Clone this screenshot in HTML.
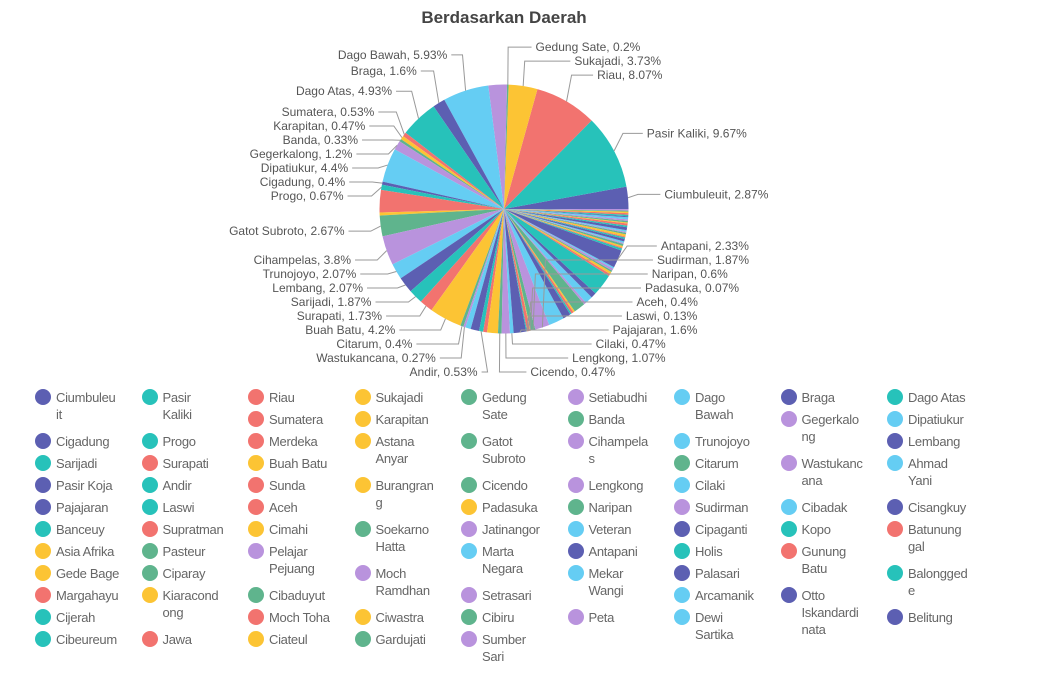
<!DOCTYPE html>
<html><head><meta charset="utf-8">
<style>
body{margin:0;background:#fff;width:1046px;height:666px;overflow:hidden;font-family:"Liberation Sans",sans-serif;}
#wrap{position:relative;width:1046px;height:666px;}
#chart{position:absolute;left:0;top:0;}
#legend{position:absolute;left:35px;top:389px;display:grid;grid-template-columns:repeat(9,106.5px);grid-auto-rows:22px;}
.li{display:flex;align-items:flex-start;font-size:13px;line-height:17px;color:#666;white-space:pre;letter-spacing:-0.3px;cursor:pointer;}
.dot{width:16px;height:16px;border-radius:50%;flex:none;margin-right:5px;margin-top:0px;}
</style></head><body>
<div id="wrap">
<svg id="chart" width="1046" height="388">
<text x="504" y="23" text-anchor="middle" font-size="17" font-weight="bold" fill="#444">Berdasarkan Daerah</text>
<g id="slices"></g>
<g id="labels"></g>
</svg>
<div id="legend"></div>
</div>
<script>
// "\n" = break between words, "|" = break inside a word (legend wrapping)
const names=["Ciumbuleu|it","Pasir\nKaliki","Riau","Sukajadi","Gedung\nSate","Setiabudhi","Dago\nBawah","Braga","Dago Atas","Sumatera","Karapitan","Banda","Gegerkalo|ng","Dipatiukur","Cigadung","Progo","Merdeka","Astana\nAnyar","Gatot\nSubroto","Cihampela|s","Trunojoyo","Lembang","Sarijadi","Surapati","Buah Batu","Citarum","Wastukanc|ana","Ahmad\nYani","Pasir Koja","Andir","Sunda","Burangran|g","Cicendo","Lengkong","Cilaki","Pajajaran","Laswi","Aceh","Padasuka","Naripan","Sudirman","Cibadak","Cisangkuy","Banceuy","Supratman","Cimahi","Soekarno\nHatta","Jatinangor","Veteran","Cipaganti","Kopo","Batunung|gal","Asia Afrika","Pasteur","Pelajar\nPejuang","Marta\nNegara","Antapani","Holis","Gunung\nBatu","Gede Bage","Ciparay","Moch\nRamdhan","Mekar\nWangi","Palasari","Balongged|e","Margahayu","Kiaracond|ong","Cibaduyut","Setrasari","Arcamanik","Otto\nIskandardi|nata","Cijerah","Moch Toha","Ciwastra","Cibiru","Peta","Dewi\nSartika","Belitung","Cibeureum","Jawa","Ciateul","Gardujati","Sumber\nSari"];
const values=[2.87,9.67,8.07,3.73,0.2,2.4,5.93,1.6,4.93,0.53,0.47,0.33,1.2,4.4,0.4,0.67,2.9,0.4,2.67,3.8,2.07,2.07,1.87,1.73,4.2,0.4,0.27,0.7,1.1,0.53,0.5,1.4,0.47,1.07,0.47,1.6,0.13,0.4,0.07,0.6,1.87,2.0,1.0,0.2,0.3,0.2,1.5,0.3,1.0,0.7,2.8,0.3,0.3,0.2,0.3,0.2,2.33,0.27,0.13,0.2,0.27,0.13,0.2,0.33,0.2,0.13,0.27,0.2,0.13,0.2,0.4,0.2,0.27,0.13,0.2,0.2,0.27,0.13,0.2,0.2,0.2,0.13,0.2];
const palette=["#5c5fb2","#27c2ba","#f2736f","#fcc434","#5fb48d","#b993dd","#65cdf3"];
const labeled=["Ciumbuleuit","Pasir Kaliki","Riau","Sukajadi","Gedung Sate","Dago Bawah","Braga","Dago Atas","Sumatera","Karapitan","Banda","Gegerkalong","Dipatiukur","Cigadung","Progo","Gatot Subroto","Cihampelas","Trunojoyo","Lembang","Sarijadi","Surapati","Buah Batu","Citarum","Wastukancana","Andir","Cicendo","Lengkong","Cilaki","Pajajaran","Laswi","Aceh","Padasuka","Naripan","Sudirman","Antapani"];

const cx=504,cy=209,r=124.5;
const NS="http://www.w3.org/2000/svg";
const total=values.reduce((a,b)=>a+b,0);
const sg=document.getElementById('slices'),lg=document.getElementById('labels');
function fullName(n){return n.replace(/\|/g,'').replace(/\n/g,' ');}
function pt(a,rad){return [cx+rad*Math.cos(a),cy-rad*Math.sin(a)];}
let cum=0;const mids=[];
values.forEach((v,i)=>{
  const a0=cum/total*2*Math.PI;cum+=v;const a1=cum/total*2*Math.PI;
  const p0=pt(a0,r),p1=pt(a1,r);const large=(a1-a0)>Math.PI?1:0;
  const p=document.createElementNS(NS,'path');
  p.setAttribute('d',`M${cx},${cy}L${p0[0]},${p0[1]}A${r},${r} 0 ${large} 0 ${p1[0]},${p1[1]}Z`);
  p.setAttribute('fill',palette[i%7]);
  
  
  sg.appendChild(p);
  mids.push((a0+a1)/2);
});
const items=[];
names.forEach((n,i)=>{const full=fullName(n);if(labeled.includes(full)){const a=mids[i];const side=Math.cos(a)>=-0.05?1:-1;
  // ordering key: top-to-bottom along the side
  const an=a>Math.PI?a-2*Math.PI:a;
  const key=side>0?(an>Math.PI/2+0.2?an-2*Math.PI:an)*-1:a;
  items.push({i,full,a,side,key,y:cy-162*Math.sin(a)});}});
[1,-1].forEach(s=>{
  const arr=items.filter(d=>d.side===s).sort((a,b)=>a.key-b.key);
  arr.forEach((d,k)=>{d.y=Math.max(d.y,cy-164);if(k>0)d.y=Math.max(d.y,arr[k-1].y+14);});
  for(let k=arr.length-1;k>=0;k--){const lim=k===arr.length-1?cy+163:arr[k+1].y-14;if(arr[k].y>lim)arr[k].y=lim;}
});
items.forEach(d=>{
  const dy=d.y-cy;const R=166;const dx=Math.sqrt(Math.max(R*R-dy*dy,500));
  const tx=cx+d.side*(dx-5);
  const e=pt(d.a,r),m=pt(d.a,r+10);
  const hx=tx-d.side*4;
  const mx=d.side>0?Math.min(m[0],hx-6):Math.max(m[0],hx+6);
  const pl=document.createElementNS(NS,'polyline');
  pl.setAttribute('points',`${e[0]},${e[1]} ${mx},${d.y} ${hx},${d.y}`);
  pl.setAttribute('fill','none');pl.setAttribute('stroke','#999');pl.setAttribute('stroke-width','1');
  
  
  lg.appendChild(pl);
  const t=document.createElementNS(NS,'text');
  t.setAttribute('x',tx);t.setAttribute('y',d.y+4);t.setAttribute('font-size','12');t.setAttribute('fill','#555');
  t.setAttribute('text-anchor',d.side>0?'start':'end');
  t.textContent=d.full+', '+values[d.i]+'%';
  
  
  lg.appendChild(t);
});
const L=document.getElementById('legend');
names.forEach((n,i)=>{
  const disp=n.replace(/\|/g,'\n');
  const lines=disp.split('\n').length;
  const it=document.createElement('div');it.className='li';
  it.style.gridRow='span '+(lines>1?2:1);
  
  
  const d=document.createElement('span');d.className='dot';d.style.background=palette[i%7];
  
  
  const s=document.createElement('span');s.textContent=disp;
  
  
  it.appendChild(d);it.appendChild(s);L.appendChild(it);
});
</script>
</body></html>
